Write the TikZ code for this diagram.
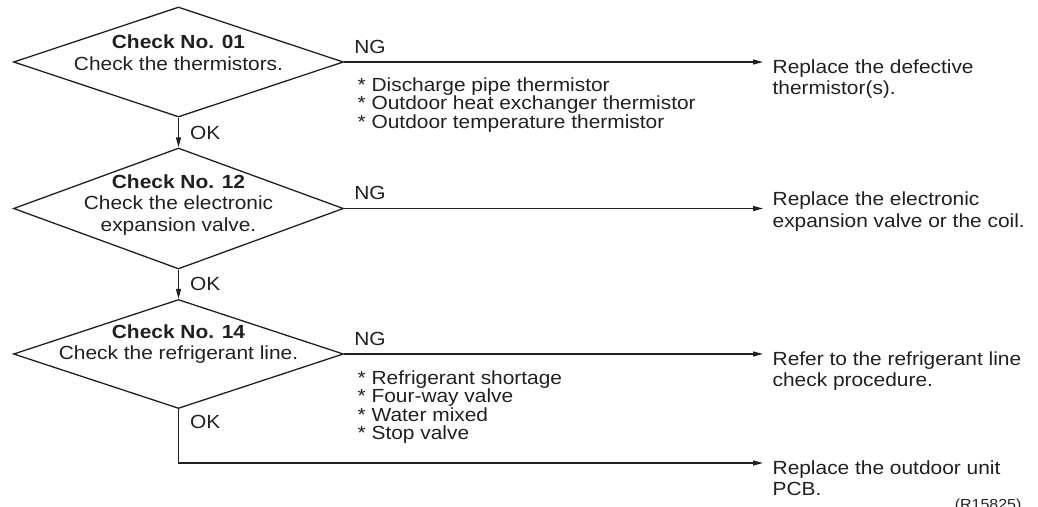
\documentclass[tikz,border=0pt]{standalone}
\usepackage{fontspec}
\setmainfont[FakeStretch=1.1]{Liberation Sans}
\usetikzlibrary{arrows.meta,shapes.geometric}
\definecolor{ink}{HTML}{231F20}
\tikzset{
	decision/.style = {draw, diamond, inner sep = 0pt, minimum width = 330pt},
	boxtext/.style = {font = \fontsize{19}{21.5}\selectfont, align = center, inner sep = 0pt},
	causes/.style = {font = \fontsize{19}{18.5}\selectfont, align = left, inner sep = 0pt, anchor = base west},
	result/.style = {font = \fontsize{19}{21.5}\selectfont, align = left, inner xsep = 9pt, inner ysep = 0pt, anchor = base west},
	tip/.style = {-{Triangle[length = 10pt, width = 5pt]}},
	ok/.style = {font = \fontsize{19}{21.5}\selectfont, anchor = west, inner xsep = 11pt}
}
\begin{document}
\begin{tikzpicture} [x = 1pt, y = -1pt, ink, line width = 1.3pt]
	\useasboundingbox (0,0) rectangle (1038,506);
	% the three checks
	\node [decision, minimum height = 110pt] (chk1) at (178.5,62) {};
	\node [decision, minimum height = 121pt] (chk2) at (178.5,208.5) {};
	\node [decision, minimum height = 109pt] (chk3) at (178.5,354) {};
	\node [boxtext] (txt1) at (178.5,52.5) {\textbf{Check No. 01}\\Check the thermistors.};
	\node [boxtext] (txt2) at (178.5,205) {\textbf{Check No. 12}\\Check the electronic\\expansion valve.};
	\node [boxtext] (txt3) at (178.5,344) {\textbf{Check No. 14}\\Check the refrigerant line.};
	% what to do (base = last line)
	\node [result] (res1) at (763,94.5) {Replace the defective\\thermistor(s).};
	\node [result] (res2) at (763,227) {Replace the electronic\\expansion valve or the coil.};
	\node [result] (res3) at (763,386.5) {Refer to the refrigerant line\\check procedure.};
	\node [result] (res4) at (763,495.5) {Replace the outdoor unit\\PCB.};
	% causes
	\node [causes] (why1) at (357,128) {* Discharge pipe thermistor\\* Outdoor heat exchanger thermistor\\* Outdoor temperature thermistor};
	\node [causes] (why3) at (357,439.5) {* Refrigerant shortage\\* Four-way valve\\* Water mixed\\* Stop valve};
	% NG branches
	\draw [tip] (chk1.east) -- (chk1.east -| res1.west);
	\draw [tip] (chk2.east) -- (chk2.east -| res2.west);
	\draw [tip] (chk3.east) -- (chk3.east -| res3.west);
	\node [boxtext, anchor = base west] (ng1) at ([shift = {(9.5pt,9pt)}] chk1.east) {NG};
	\node [boxtext, anchor = base west] (ng2) at ([shift = {(9.5pt,9pt)}] chk2.east) {NG};
	\node [boxtext, anchor = base west] (ng3) at ([shift = {(9.5pt,9pt)}] chk3.east) {NG};
	% OK branches
	\draw [tip] (chk1) -- node [ok] {OK} (chk2);
	\draw [tip] (chk2) -- node [ok] {OK} (chk3);
	\draw [tip] (chk3.south) |- node [ok, pos = 0.12] {OK} ([yshift = 32.5pt] res4.base west);
	%\draw (0,0) -- (1038,506);
	\node [font = \fontsize{14.5}{16}\selectfont, anchor = north east, inner sep = 0pt] (fig) at (1022,498) {(R15825)};
\end{tikzpicture}
\end{document}
